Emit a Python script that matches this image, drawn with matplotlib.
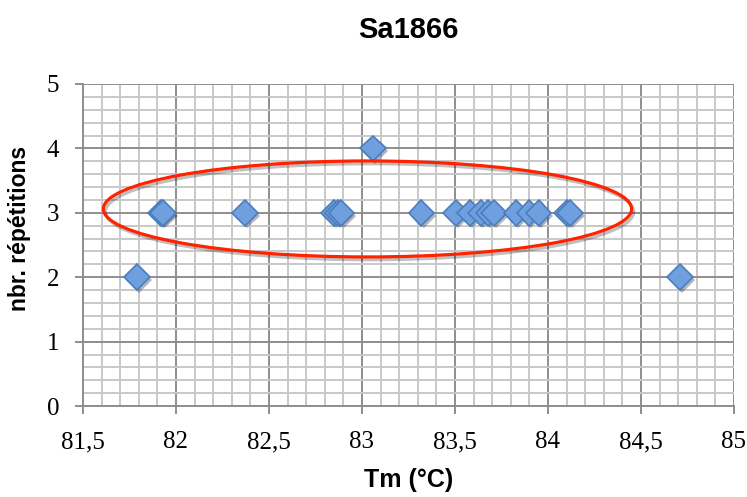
import matplotlib
matplotlib.use("Agg")
import matplotlib.pyplot as plt
from matplotlib.patches import Ellipse
from matplotlib.ticker import MultipleLocator, FuncFormatter
import matplotlib.patheffects as pe

# Data
tm_values = [81.79, 81.92, 81.93, 82.37, 82.85, 82.87, 82.89, 83.06, 83.32,
             83.505, 83.58, 83.64, 83.68, 83.71, 83.83, 83.90, 83.95, 84.10, 84.12, 84.71]
repetitions = [2, 3, 3, 3, 3, 3, 3, 4, 3,
               3, 3, 3, 3, 3, 3, 3, 3, 3, 3, 2]
x_ticks = [81.5, 82, 82.5, 83, 83.5, 84, 84.5, 85]
y_ticks = [0, 1, 2, 3, 4, 5]
title = "Sa1866"
x_label = "Tm (°C)"
y_label = "nbr. répétitions"
ellipse_center = (83.03, 3.06)
ellipse_width = 2.84
ellipse_height = 1.49

fig = plt.figure(figsize=(7.47, 4.97), dpi=100)
ax = fig.add_axes([0.111, 0.183, 0.8715, 0.648])

ax.set_xlim(81.5, 85)
ax.set_ylim(0, 5)
ax.xaxis.set_minor_locator(MultipleLocator(0.1))
ax.yaxis.set_minor_locator(MultipleLocator(0.2))
ax.set_xticks(x_ticks)
ax.set_yticks(y_ticks)
ax.xaxis.set_major_formatter(FuncFormatter(lambda v, p: ("%g" % v).replace(".", ",")))

ax.grid(which="minor", color="#c8c8c8", linewidth=1.4)
ax.grid(which="major", color="#8e8e8e", linewidth=1.4)
ax.set_axisbelow(True)

for s in ["top", "right"]:
    ax.spines[s].set_visible(False)
for s in ["left", "bottom"]:
    ax.spines[s].set_color("#8e8e8e")
    ax.spines[s].set_linewidth(1.4)

ax.tick_params(which="major", direction="out", length=6, width=1.4, color="#8e8e8e",
               labelsize=18)
ax.tick_params(axis="x", which="major", pad=12)
ax.tick_params(axis="y", which="major", pad=11)
ax.tick_params(which="minor", length=0)
for lbl in ax.get_xticklabels() + ax.get_yticklabels():
    lbl.set_fontfamily("Liberation Serif")

ax.plot(tm_values, repetitions, linestyle="none", marker="D", markersize=13,
        markerfacecolor="#6f9fdf", markeredgecolor="#4a7ebb", markeredgewidth=1.2,
        zorder=3,
        path_effects=[pe.SimplePatchShadow(offset=(1.5, -2), alpha=0.35), pe.Normal()])

ell = Ellipse(ellipse_center, ellipse_width, ellipse_height, fill=False,
              edgecolor="#ff2200", linewidth=2.3, zorder=4,
              path_effects=[pe.SimpleLineShadow(offset=(1.5, -2), alpha=0.25), pe.Normal()])
ax.add_patch(ell)

ax.set_title(title, fontsize=21, fontweight="bold", fontfamily="Liberation Sans", pad=33)
ax.set_xlabel(x_label, fontsize=18, fontweight="bold", fontfamily="Liberation Sans", labelpad=11)
ax.set_ylabel(y_label, fontsize=16.5, fontweight="bold", fontfamily="Liberation Sans",
              labelpad=12)
ax.yaxis.set_label_coords(-0.08, 0.55)

fig.savefig("out.png", dpi=100)
